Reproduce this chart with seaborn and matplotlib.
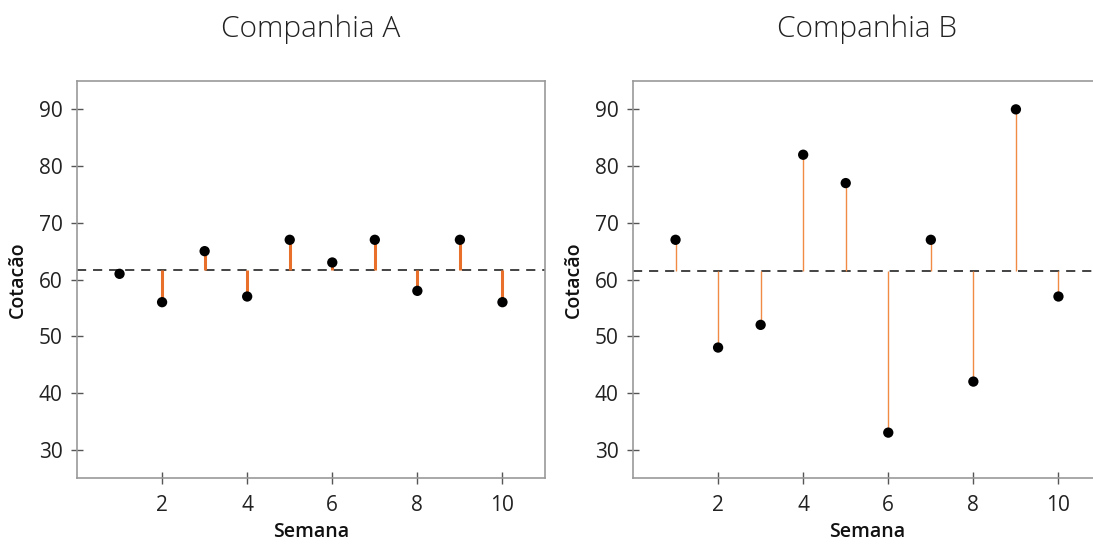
import numpy as np
import pandas as pd
import matplotlib
matplotlib.use("Agg")
import matplotlib.pyplot as plt
import seaborn as sns

semanas = [1, 2, 3, 4, 5, 6, 7, 8, 9, 10]
cotacao_a = [61, 56, 65, 57, 67, 63, 67, 58, 67, 56]
cotacao_b = [67, 48, 52, 82, 77, 33, 67, 42, 90, 57]
titulos = ["Companhia A", "Companhia B"]
xticks = [2, 4, 6, 8, 10]
yticks = [30, 40, 50, 60, 70, 80, 90]

sns.set_theme(style="white")
plt.rcParams["font.family"] = ["Open Sans", "DejaVu Sans"]

fig = plt.figure(figsize=(10.93, 5.46), dpi=100)
W, H = 1093, 546
positions = [
    (77 / W, 1 - 478 / H, (545 - 77) / W, (478 - 81) / H),
    (633 / W, 1 - 478 / H, (545 - 77) / W, (478 - 81) / H),
]
stem_lw = [2.2, 1.0]
stem_color = ["#e8702a", "#f08a45"]

for i, (pos, titulo, valores, lw, sc) in enumerate(
        zip(positions, titulos, [cotacao_a, cotacao_b], stem_lw, stem_color)):
    ax = fig.add_axes(pos)
    df = pd.DataFrame({"Semana": semanas, "Cotacao": valores})
    media = float(np.mean(valores))
    ax.vlines(df["Semana"], media, df["Cotacao"], color=sc, lw=lw, zorder=2)
    ax.axhline(media, color="#111111", lw=1.1, ls=(0, (6, 4.5)), zorder=1)
    sns.scatterplot(data=df, x="Semana", y="Cotacao", ax=ax, color="black",
                    s=55, edgecolor="none", zorder=3)
    ax.set_xlim(0, 11)
    ax.set_ylim(25, 95)
    ax.set_xticks(xticks)
    ax.set_yticks(yticks)
    ax.tick_params(axis="both", direction="inout", length=9, width=1,
                   color="#555555", labelsize=15, labelcolor="#222222", pad=6,
                   bottom=True, left=True)
    ax.tick_params(axis="x", pad=8)
    for s in ax.spines.values():
        s.set_color("#999999")
        s.set_linewidth(1.2)
    if i == 1:
        ax.spines["right"].set_visible(False)
    ax.set_xlabel("Semana", fontsize=14, fontweight="semibold", color="#111111", labelpad=4)
    ax.set_ylabel("Cotacão", fontsize=14, fontweight="semibold", color="#111111", labelpad=8)
    ax.set_title(titulo, fontsize=21.5, fontweight="light", color="#222222", pad=32)

fig.savefig("out.png", dpi=100)
